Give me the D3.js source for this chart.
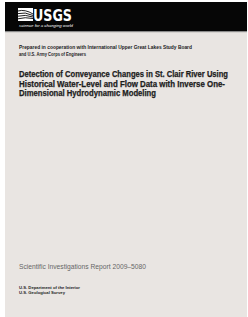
<!DOCTYPE html>
<html>
<head>
<meta charset="utf-8">
<script src="https://cdn.jsdelivr.net/npm/d3@7"></script>
<style>
  html, body { margin: 0; padding: 0; background: #ffffff; }
  svg { display: block; }
</style>
</head>
<body>
<svg width="248" height="317"></svg>
<script>
let width = 248;
let height = 317;

// text content of the cover
let prepared_lines = [
    "Prepared in cooperation with International Upper Great Lakes Study Board",
    "and U.S. Army Corps of Engineers"
];
let title_lines = [
    "Detection of Conveyance Changes in St. Clair River Using",
    "Historical Water-Level and Flow Data with Inverse One-",
    "Dimensional Hydrodynamic Modeling"
];
let report_label = ["Scientific Investigations Report 2009\u20135080"];
let dept_lines = ["U.S. Department of the Interior", "U.S. Geological Survey"];

let svg = d3.select("svg")

// page background
svg.append("rect")
    .attr("x", 5).attr("y", 2)
    .attr("width", 242).attr("height", 315)
    .style("fill", "#e9e5e2")

// black banner
svg.append("rect")
    .attr("x", 5).attr("y", 2)
    .attr("width", 242).attr("height", 29)
    .style("fill", "#060606")

svg.append("rect")
    .attr("x", 5).attr("y", 31)
    .attr("width", 242).attr("height", 1.2)
    .style("fill", "#8a8a8a")

// logo wave mark
let logo = svg.append("g").attr("transform", "translate(18,8)")
logo.append("rect").attr("width", 15).attr("height", 13).style("fill", "#fff")
let waves = d3.range(4)
logo.selectAll(".wave")
    .data(waves)
    .join("path")
    .attr("d", i => `M0,${3 + i * 2.6} Q7,${1 + i * 2.6} 15,${6 + i * 1.5}`)
    .style("fill", "none")
    .style("stroke", "#060606")
    .style("stroke-width", 0.9)

svg.append("text")
    .attr("x", 33).attr("y", 20.5)
    .attr("textLength", 39).attr("lengthAdjust", "spacingAndGlyphs")
    .style("font-family", "'Liberation Sans Narrow', 'DejaVu Sans Condensed', sans-serif")
    .style("font-weight", "bold")
    .style("font-size", "15px")
    .style("fill", "#fff")
    .text("USGS")

svg.append("text")
    .attr("x", 19).attr("y", 27)
    .attr("textLength", 54).attr("lengthAdjust", "spacingAndGlyphs")
    .style("font-family", "'Liberation Sans', sans-serif")
    .style("font-style", "italic")
    .style("font-size", "4px")
    .style("fill", "#fff")
    .text("science for a changing world")

function add_lines(lines, opts) {
    svg.append("g")
        .selectAll("text")
        .data(lines)
        .join("text")
        .attr("x", 19)
        .attr("y", (d, i) => opts.y + i * opts.step)
        .attr("textLength", (d, i) => opts.widths[i])
        .attr("lengthAdjust", "spacingAndGlyphs")
        .style("font-family", opts.family)
        .style("font-weight", opts.weight)
        .style("font-size", opts.size)
        .style("fill", opts.color)
        .style("stroke", opts.stroke || "none")
        .style("stroke-width", 0.25)
        .text(d => d)
}

add_lines(prepared_lines, {
    y: 48.8, step: 6.8, widths: [173, 67],
    family: "'Liberation Sans Narrow', 'Liberation Sans', sans-serif",
    weight: "bold", size: "5.4px", color: "#222"
})

add_lines(title_lines, {
    y: 77, step: 9.6, widths: [209, 206, 137],
    family: "'Liberation Sans Narrow', 'Liberation Sans', sans-serif",
    weight: "bold", size: "8.6px", color: "#1c1c1c", stroke: "#1c1c1c"
})

add_lines(report_label, {
    y: 268.5, step: 0, widths: [127],
    family: "'Liberation Sans Narrow', 'Liberation Sans', sans-serif",
    weight: "normal", size: "7.6px", color: "#666"
})

add_lines(dept_lines, {
    y: 288.5, step: 5.2, widths: [61, 46],
    family: "'Liberation Sans Narrow', 'Liberation Sans', sans-serif",
    weight: "bold", size: "4.3px", color: "#222"
})
</script>
</body>
</html>
